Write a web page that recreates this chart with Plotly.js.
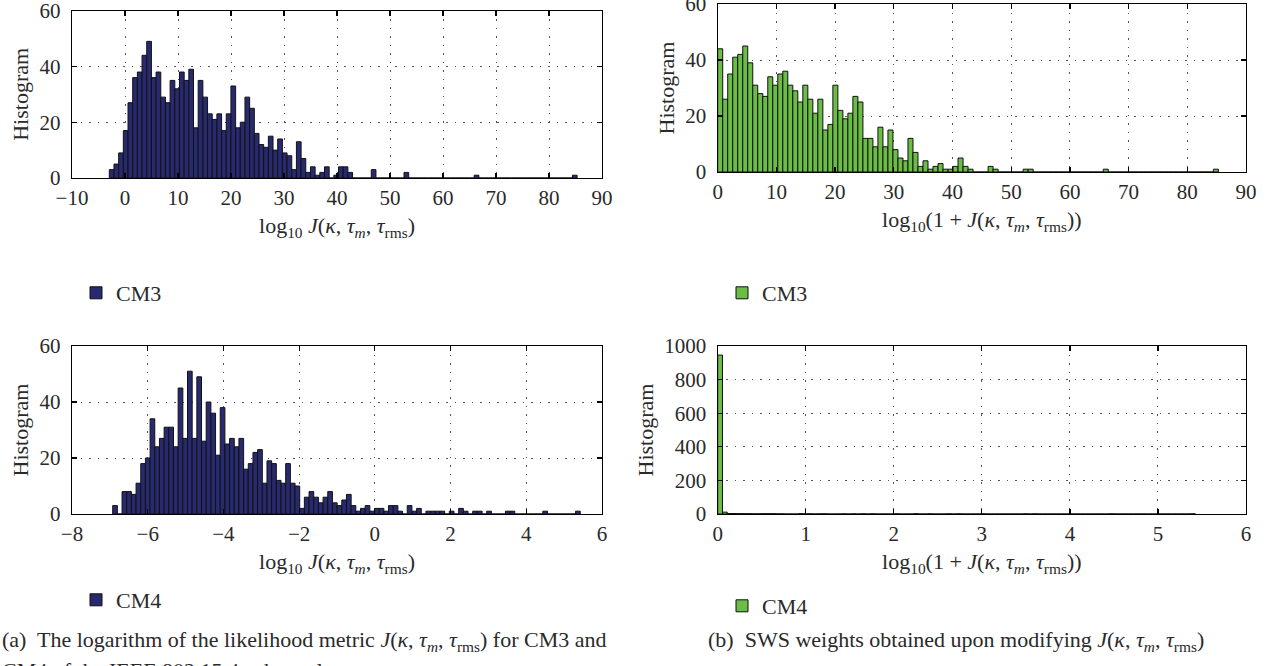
<!DOCTYPE html>
<html>
<head>
<meta charset="utf-8">
<script src="https://cdn.plot.ly/plotly-3.0.1.min.js"></script>
<style>html,body{margin:0;padding:0;background:#fff;}#chart{width:1271px;height:666px;}</style>
</head>
<body>
<div id="chart"></div>
<script>
// ---------------- DATA ----------------
// (a) top: CM3, log10 J — 100 bins between these limits
const cm3LogJRange = [-2.96, 85.3];
const cm3LogJCounts = [
  3,5,9,17,27,36,38,44,49,36,
  38,29,27,35,32,38,35,39,18,35,
  29,23,21,23,17,23,33,18,20,29,
  25,16,12,11,15,10,14,9,8,3,
  13,7,2,4,1,2,4,0,1,4,
  4,2,0,0,0,0,3,0,0,0,
  0,0,0,2,0,0,0,0,0,0,
  0,0,0,0,0,0,0,0,1,0,
  0,0,0,0,0,0,0,0,0,0,
  0,0,0,0,0,0,0,0,0,1
];
// (b) top: CM3, log10(1+J)
const cm3Log1pJRange = [0, 85.3];
const cm3Log1pJCounts = [
  44,26,35,41,42,45,39,31,28,27,
  34,31,35,36,31,29,25,31,26,21,
  26,15,17,31,22,19,21,27,25,12,
  12,9,16,9,15,8,5,4,12,7,
  2,4,1,2,3,1,1,2,5,2,
  1,0,0,0,2,1,0,0,0,0,
  0,1,1,0,0,0,0,0,0,0,
  0,0,0,0,0,0,0,1,0,0,
  0,0,0,0,0,0,0,0,0,0,
  0,0,0,0,0,0,0,0,0,1
];
// (a) bottom: CM4, log10 J
const cm4LogJRange = [-6.925, 5.425];
const cm4LogJCounts = [
  3,0,8,8,7,11,18,20,34,24,
  27,31,31,24,45,27,51,27,49,26,
  40,36,21,38,25,27,24,27,16,18,
  22,23,11,19,18,12,11,18,11,10,
  2,6,8,6,4,6,8,4,3,5,
  7,3,1,2,3,1,2,2,1,3,
  3,1,0,3,1,2,0,1,1,1,
  1,0,1,0,2,1,0,1,1,0,
  1,0,0,0,1,1,0,0,0,0,
  0,0,1,0,0,0,0,0,0,1
];
// (b) bottom: CM4, log10(1+J)
const cm4Log1pJRange = [0, 5.425];
const cm4Log1pJCounts = [
  946,11,3,3,2,2,2,1,1,2,
  2,2,1,1,0,0,0,2,1,1,
  0,1,1,0,0,0,1,0,1,0,
  1,0,1,0,0,0,0,1,0,0,
  0,2,0,0,1,0,0,0,1,0,
  1,0,0,0,0,1,0,0,0,0,
  0,0,0,0,1,0,1,0,0,0,
  0,0,0,0,0,0,0,0,0,0,
  0,0,1,0,0,0,0,0,0,0,
  0,0,0,0,0,0,0,0,0,1
];
const seriesNames = ['CM3', 'CM4'];
const xTitleLogJ = 'log<sub>10</sub> <i>J</i>(<i>κ</i>, <i>τ<sub>m</sub></i>, <i>τ</i><sub>rms</sub>)';
const xTitleLog1pJ = 'log<sub>10</sub>(1 + <i>J</i>(<i>κ</i>, <i>τ<sub>m</sub></i>, <i>τ</i><sub>rms</sub>))';
const yTitle = 'Histogram';
const captionA1 = '(a)  The logarithm of the likelihood metric <i>J</i>(<i>κ</i>, <i>τ<sub>m</sub></i>, <i>τ</i><sub>rms</sub>) for CM3 and';
const captionA2 = 'CM4 of the IEEE 802.15.4a channels.';
const captionB = '(b)  SWS weights obtained upon modifying <i>J</i>(<i>κ</i>, <i>τ<sub>m</sub></i>, <i>τ</i><sub>rms</sub>)';

// ---------------- STYLE ----------------
const W = 1271, H = 666;
const FONT = 'Liberation Serif';
const TXT = '#2a2a2a';
const NAVY = '#282a6f';
const GREEN = '#6bbd45';
const FS_TICK = 21;
const FS = 22;

function binsFrom(range, counts){
  const w = (range[1]-range[0]) / counts.length;
  return {x: counts.map((_, i) => range[0] + (i + 0.5) * w), w: w};
}
function dx(a, b){ return [a / W, b / W]; }
function dy(top, bottom){ return [1 - bottom / H, 1 - top / H]; }

function barTrace(range, counts, color, name, xa, ya, leg){
  const b = binsFrom(range, counts);
  return {
    type: 'bar', x: b.x, y: counts, width: b.w, name: name,
    xaxis: xa, yaxis: ya, legend: leg, showlegend: true,
    marker: {color: color, line: {color: '#111', width: 1}},
    hoverinfo: 'x+y'
  };
}

const traces = [
  barTrace(cm3LogJRange, cm3LogJCounts, NAVY, seriesNames[0], 'x', 'y', 'legend'),
  barTrace(cm3Log1pJRange, cm3Log1pJCounts, GREEN, seriesNames[0], 'x2', 'y2', 'legend2'),
  barTrace(cm4LogJRange, cm4LogJCounts, NAVY, seriesNames[1], 'x3', 'y3', 'legend3'),
  barTrace(cm4Log1pJRange, cm4Log1pJCounts, GREEN, seriesNames[1], 'x4', 'y4', 'legend4')
];

function xAx(domain, anchor, range, dtick, title){
  return {
    domain: domain, anchor: anchor, range: range, dtick: dtick, tick0: 0,
    showline: true, mirror: 'ticks', linecolor: '#000', linewidth: 1.2,
    ticks: 'inside', ticklen: 5, tickcolor: '#000', tickwidth: 1.2,
    showgrid: true, gridcolor: '#555', gridwidth: 1, griddash: '1.5px,7px',
    zeroline: false, ticklabelstandoff: 1, ticklabeloverflow: 'allow',
    tickfont: {family: FONT, size: FS_TICK, color: TXT},
    title: {text: title, font: {family: FONT, size: FS, color: TXT}, standoff: 8},
    fixedrange: true
  };
}
function yAx(domain, anchor, range, dtick){
  return {
    domain: domain, anchor: anchor, range: range, dtick: dtick, tick0: 0,
    showline: true, mirror: 'ticks', linecolor: '#000', linewidth: 1.2,
    ticks: 'inside', ticklen: 5, tickcolor: '#000', tickwidth: 1.2,
    showgrid: true, gridcolor: '#555', gridwidth: 1, griddash: '1.5px,7px',
    zeroline: false, ticklabelstandoff: 6, ticklabeloverflow: 'allow',
    tickfont: {family: FONT, size: FS_TICK, color: TXT},
    title: {text: yTitle, font: {family: FONT, size: FS, color: TXT}, standoff: 4},
    fixedrange: true
  };
}
function leg(xpx, ypx){
  return {x: xpx / W, y: 1 - ypx / H, xanchor: 'left', yanchor: 'middle',
    bgcolor: 'rgba(0,0,0,0)', borderwidth: 0,
    font: {family: FONT, size: FS, color: TXT}};
}

const layout = {
  width: W, height: H,
  margin: {l: 0, r: 0, t: 0, b: 0},
  paper_bgcolor: '#fff', plot_bgcolor: '#fff',
  font: {family: FONT, size: FS, color: TXT},
  bargap: 0,
  xaxis:  xAx(dx(72, 602), 'y', [-10, 90], 10, xTitleLogJ),
  yaxis:  yAx(dy(10.7, 178), 'x', [0, 60], 20),
  xaxis2: xAx(dx(717.7, 1246), 'y2', [0, 90], 10, xTitleLog1pJ),
  yaxis2: yAx(dy(4, 172), 'x2', [0, 60], 20),
  xaxis3: xAx(dx(72, 602), 'y3', [-8, 6], 2, xTitleLogJ),
  yaxis3: yAx(dy(346, 514), 'x3', [0, 60], 20),
  xaxis4: xAx(dx(717.7, 1246), 'y4', [0, 6], 1, xTitleLog1pJ),
  yaxis4: yAx(dy(346, 514), 'x4', [0, 1000], 200),
  legend: leg(76, 293),
  legend2: leg(722, 293),
  legend3: leg(76, 600),
  legend4: leg(722, 606),
  annotations: [
    {xref: 'paper', yref: 'paper', x: 0, y: 1 - 641 / H, xanchor: 'left', yanchor: 'middle',
     text: captionA1, showarrow: false, font: {family: FONT, size: FS, color: TXT}},
    {xref: 'paper', yref: 'paper', x: 0, y: 1 - 656 / H, xanchor: 'left', yanchor: 'top',
     text: captionA2, showarrow: false, font: {family: FONT, size: FS, color: TXT}},
    {xref: 'paper', yref: 'paper', x: 706 / W, y: 1 - 641 / H, xanchor: 'left', yanchor: 'middle',
     text: captionB, showarrow: false, font: {family: FONT, size: FS, color: TXT}}
  ],
  showlegend: true
};

Plotly.newPlot('chart', traces, layout, {displayModeBar: false, staticPlot: true});
</script>
</body>
</html>
